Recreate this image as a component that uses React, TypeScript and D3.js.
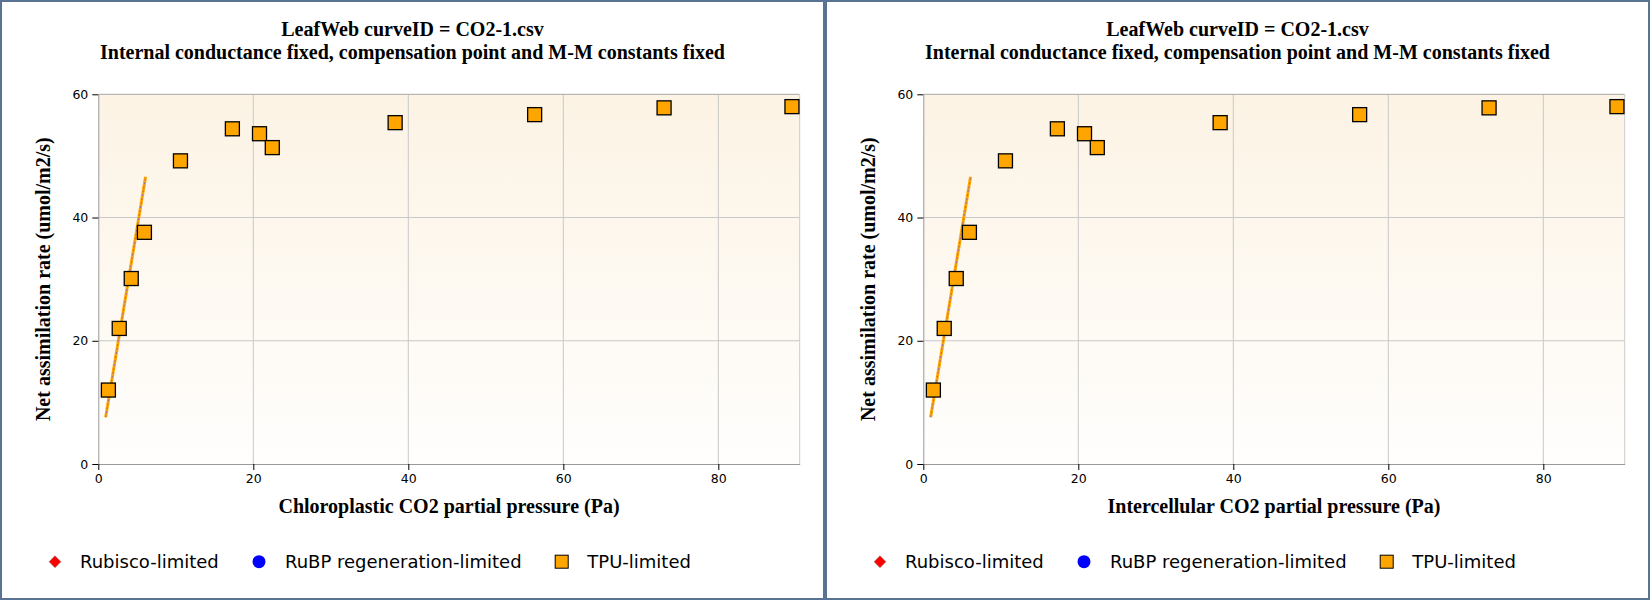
import * as d3 from "d3";
import { useEffect, useRef } from "react";

const ciValues = [1.3, 2.7, 4.25, 5.95, 10.6, 17.3, 20.8, 22.45, 38.3, 56.3, 73.0, 89.5];
const anetValues = [12.0, 22.0, 30.1, 37.6, 49.2, 54.4, 53.6, 51.35, 55.4, 56.7, 57.8, 58.0];
const fitCi = [0.95, 6.1];
const fitA = [7.6, 46.6];
const xTicks = [0, 20, 40, 60, 80];
const yTicks = [0, 20, 40, 60];
const titleLines = [
  "LeafWeb curveID = CO2-1.csv",
  "Internal conductance fixed, compensation point and M-M constants fixed",
];
const xLabels = [
  "Chloroplastic CO2 partial pressure (Pa)",
  "Intercellular CO2 partial pressure (Pa)",
];
const yLabel = "Net assimilation rate (umol/m2/s)";
const legendNames = ["Rubisco-limited", "RuBP regeneration-limited", "TPU-limited"];

const PANEL_W = 825;
const PANEL_H = 600;
const margin = { top: 94.3, left: 98.3, right: 25.3, bottom: 136 };
const serif = "'Liberation Serif', 'Times New Roman', serif";
const sans = "'DejaVu Sans', Verdana, sans-serif";

function Charts() {
  const svgRef = useRef(null);

  useEffect(() => {
    document.body.style.margin = "0";
    const svg = d3.select(svgRef.current);
    svg.selectAll("*").remove();

    const defs = svg.append("defs");
    const grad = defs
      .append("linearGradient")
      .attr("id", "plotBg")
      .attr("x1", 0)
      .attr("y1", 0)
      .attr("x2", 0)
      .attr("y2", 1);
    grad.append("stop").attr("offset", "0%").attr("stop-color", "#fcf3e4");
    grad.append("stop").attr("offset", "100%").attr("stop-color", "#fffefd");

    const width = PANEL_W - margin.left - margin.right;
    const height = PANEL_H - margin.top - margin.bottom;

    const x = d3.scaleLinear().domain([0, 90.5]).range([0, width]);
    const y = d3.scaleLinear().domain([0, 60]).range([height, 0]);

    xLabels.forEach((xLabel, i) => {
      const panel = svg.append("g").attr("transform", `translate(${i * PANEL_W},0)`);

      panel
        .append("rect")
        .attr("x", 1)
        .attr("y", 1)
        .attr("width", PANEL_W - 2)
        .attr("height", PANEL_H - 2)
        .attr("fill", "#fff")
        .attr("stroke", "#5b7393")
        .attr("stroke-width", 2);

      // titles
      titleLines.forEach((t, k) => {
        panel
          .append("text")
          .attr("x", PANEL_W / 2)
          .attr("y", 35.7 + k * 23.6)
          .attr("text-anchor", "middle")
          .attr("font-family", serif)
          .attr("font-weight", "bold")
          .attr("font-size", 20)
          .text(t);
      });

      const g = panel
        .append("g")
        .attr("transform", `translate(${margin.left},${margin.top})`);

      g.append("rect")
        .attr("width", width)
        .attr("height", height)
        .attr("fill", "url(#plotBg)");

      // grid
      g.selectAll(".vgrid")
        .data(xTicks.filter((d) => d > 0))
        .enter()
        .append("line")
        .attr("x1", (d) => x(d))
        .attr("x2", (d) => x(d))
        .attr("y1", 0)
        .attr("y2", height)
        .attr("stroke", "#c8c8c8");
      g.selectAll(".hgrid")
        .data(yTicks.filter((d) => d > 0 && d < 60))
        .enter()
        .append("line")
        .attr("x1", 0)
        .attr("x2", width)
        .attr("y1", (d) => y(d))
        .attr("y2", (d) => y(d))
        .attr("stroke", "#c8c8c8");

      // frame
      g.append("line")
        .attr("x1", 0)
        .attr("x2", width)
        .attr("y1", 0)
        .attr("y2", 0)
        .attr("stroke", "#a8a8a8");
      g.append("line")
        .attr("x1", width)
        .attr("x2", width)
        .attr("y1", 0)
        .attr("y2", height)
        .attr("stroke", "#cccccc");

      // axes
      const xAxis = g
        .append("g")
        .attr("transform", `translate(0,${height})`)
        .call(d3.axisBottom(x).tickValues(xTicks).tickSize(6).tickSizeOuter(0).tickPadding(4));
      const yAxis = g
        .append("g")
        .call(d3.axisLeft(y).tickValues(yTicks).tickSize(6).tickSizeOuter(0).tickPadding(4));
      [xAxis, yAxis].forEach((a) => {
        a.select(".domain").attr("stroke", "#999");
        a.selectAll(".tick line").attr("stroke", "#000");
        a.selectAll(".tick text")
          .attr("font-family", sans)
          .attr("font-size", 12.5)
          .attr("fill", "#000");
      });

      // axis labels
      panel
        .append("text")
        .attr("x", margin.left + width / 2)
        .attr("y", 513)
        .attr("text-anchor", "middle")
        .attr("font-family", serif)
        .attr("font-weight", "bold")
        .attr("font-size", 20)
        .text(xLabel);
      panel
        .append("text")
        .attr("transform", `translate(50,${margin.top + height / 2}) rotate(-90)`)
        .attr("text-anchor", "middle")
        .attr("font-family", serif)
        .attr("font-weight", "bold")
        .attr("font-size", 20)
        .text(yLabel);

      // model line
      const line = d3
        .line<number>()
        .x((d) => x(d))
        .y((_, k) => y(fitA[k]));
      g.append("path")
        .attr("d", line(fitCi))
        .attr("fill", "none")
        .attr("stroke", "#ffa500")
        .attr("stroke-width", 3);
      g.append("path")
        .attr("d", line(fitCi))
        .attr("fill", "none")
        .attr("stroke", "#a06c8c")
        .attr("stroke-width", 1)
        .attr("stroke-dasharray", "2,2");

      // points
      const s = 14;
      g.selectAll(".pt")
        .data(ciValues)
        .enter()
        .append("rect")
        .attr("x", (d) => x(d) - s / 2)
        .attr("y", (_, k) => y(anetValues[k]) - s / 2)
        .attr("width", s)
        .attr("height", s)
        .attr("fill", "#ffa500")
        .attr("stroke", "#000")
        .attr("stroke-width", 1.3);

      // legend
      const legendY = 561.7;
      const markerX = [55, 259, 561.7];
      const textX = [80, 285, 587.3];
      const lg = panel.append("g");
      lg.append("path")
        .attr("d", d3.symbol(d3.symbolDiamond2, 90)())
        .attr("transform", `translate(${markerX[0]},${legendY})`)
        .attr("fill", "#ff0000")
        .attr("stroke", "#777")
        .attr("stroke-width", 0.5);
      lg.append("circle")
        .attr("cx", markerX[1])
        .attr("cy", legendY)
        .attr("r", 6.5)
        .attr("fill", "#0000ff");
      lg.append("rect")
        .attr("x", markerX[2] - 6.5)
        .attr("y", legendY - 6.5)
        .attr("width", 13)
        .attr("height", 13)
        .attr("fill", "#ffa500")
        .attr("stroke", "#000")
        .attr("stroke-width", 1);
      legendNames.forEach((n, k) => {
        lg.append("text")
          .attr("x", textX[k])
          .attr("y", legendY + 6.3)
          .attr("font-family", sans)
          .attr("font-size", 18)
          .attr("fill", "#000")
          .text(n);
      });
    });
  }, []);

  return (
    <svg
      ref={svgRef}
      width={PANEL_W * 2}
      height={PANEL_H}
      style={{ display: "block" }}
    ></svg>
  );
}

export default function App() {
  return <Charts />;
}
